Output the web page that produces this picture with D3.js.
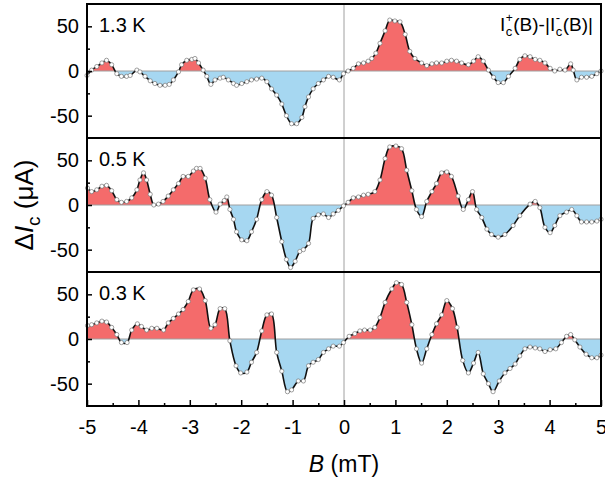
<!DOCTYPE html>
<html>
<head>
<meta charset="utf-8">
<script src="https://cdn.jsdelivr.net/npm/d3@7"></script>
<style>
  html, body { margin: 0; padding: 0; background: #fff; }
  svg { display: block; font-family: "Liberation Sans", Arial, sans-serif; }
</style>
</head>
<body>
<svg id="chart" width="605" height="481"></svg>
<script>
// ΔIc = Ic+(B) - |Ic-(B)| versus field B, one panel per temperature
const panelLabels = ["1.3 K", "0.5 K", "0.3 K"];

const fieldT13 = [-5.0,-4.91,-4.81,-4.71,-4.62,-4.52,-4.42,-4.33,-4.23,-4.16,-4.03,-3.97,-3.87,-3.77,-3.68,-3.58,-3.48,-3.40,-3.32,-3.22,-3.16,-3.06,-2.96,-2.90,-2.83,-2.74,-2.67,-2.59,-2.51,-2.41,-2.35,-2.25,-2.15,-2.09,-1.99,-1.89,-1.80,-1.70,-1.60,-1.50,-1.41,-1.31,-1.21,-1.12,-1.02,-0.92,-0.82,-0.76,-0.69,-0.60,-0.50,-0.40,-0.30,-0.21,-0.09,-0.01,0.08,0.18,0.28,0.38,0.47,0.54,0.62,0.70,0.80,0.89,0.99,1.09,1.19,1.28,1.38,1.51,1.61,1.71,1.80,1.90,2.00,2.09,2.19,2.29,2.42,2.52,2.61,2.71,2.81,2.91,3.00,3.10,3.20,3.33,3.42,3.52,3.62,3.72,3.81,3.91,4.01,4.10,4.20,4.30,4.41,4.46,4.53,4.62,4.72,4.82,4.92,5.0];
const dIcT13 = [-5,1,5,9,12,7,-3,-6,-6,-5,1,-1,-6,-11,-14,-16,-16,-15,-10,-1,7,12,13,14,9,1,-6,-15,-10,-8,-7,-10,-14,-16,-14,-12,-10,-9,-8,-12,-20,-27,-37,-50,-59,-59,-52,-40,-29,-20,-14,-10,-6,-7,-10,-3,0,3,8,9,11,14,20,31,45,57,56,55,41,22,14,9,6,8,9,9,11,12,11,9,7,11,16,11,1,-7,-13,-13,-6,3,13,17,16,13,12,9,3,0,2,1,8,1,-10,-7,-7,-6,-3,0];

const fieldT05 = [-4.99,-4.91,-4.81,-4.71,-4.62,-4.52,-4.42,-4.33,-4.23,-4.13,-4.03,-3.97,-3.90,-3.84,-3.77,-3.70,-3.61,-3.52,-3.42,-3.32,-3.22,-3.13,-3.03,-2.93,-2.87,-2.80,-2.70,-2.61,-2.49,-2.41,-2.33,-2.28,-2.22,-2.15,-2.09,-1.99,-1.89,-1.80,-1.70,-1.60,-1.50,-1.41,-1.31,-1.21,-1.12,-1.04,-0.95,-0.86,-0.79,-0.69,-0.60,-0.50,-0.40,-0.30,-0.21,-0.11,-0.01,0.08,0.18,0.28,0.38,0.47,0.60,0.70,0.80,0.89,1.01,1.12,1.22,1.32,1.41,1.51,1.61,1.71,1.80,1.90,2.00,2.09,2.22,2.32,2.42,2.50,2.58,2.68,2.78,2.87,3.00,3.13,3.29,3.42,3.62,3.72,3.81,3.91,4.01,4.10,4.20,4.33,4.43,4.53,4.62,4.72,4.82,4.92,5.0];
const dIcT05 = [19,15,17,21,22,16,6,3,4,8,17,28,36,28,12,0,1,4,10,17,24,32,32,38,41,41,30,6,-8,1,5,9,-5,-16,-30,-39,-40,-30,-16,6,15,11,-14,-41,-61,-70,-63,-52,-50,-43,-15,-11,-10,-14,-10,-6,-1,3,8,9,11,12,15,28,52,65,66,63,39,16,-5,-13,4,15,24,36,37,32,10,-5,6,15,-5,-14,-27,-33,-36,-33,-23,-12,1,4,-3,-25,-31,-23,-12,-8,-5,-12,-19,-19,-19,-18,-16];

const fieldT03 = [-4.99,-4.91,-4.81,-4.71,-4.62,-4.52,-4.42,-4.33,-4.22,-4.13,-4.02,-3.94,-3.84,-3.74,-3.64,-3.51,-3.42,-3.32,-3.22,-3.13,-3.03,-2.93,-2.81,-2.70,-2.59,-2.51,-2.41,-2.32,-2.22,-2.10,-2.01,-1.89,-1.80,-1.70,-1.60,-1.50,-1.41,-1.31,-1.21,-1.10,-1.02,-0.89,-0.79,-0.69,-0.60,-0.50,-0.40,-0.30,-0.21,-0.09,-0.01,0.10,0.21,0.31,0.40,0.51,0.60,0.70,0.80,0.93,1.02,1.12,1.22,1.32,1.41,1.51,1.61,1.71,1.80,1.90,2.00,2.11,2.20,2.31,2.42,2.52,2.61,2.71,2.81,2.90,3.02,3.13,3.23,3.33,3.42,3.52,3.62,3.72,3.81,3.91,4.01,4.12,4.23,4.33,4.41,4.49,4.59,4.71,4.82,4.92,5.0];
const dIcT03 = [15,16,18,20,19,13,5,-4,-4,10,17,14,10,12,12,10,18,23,28,33,42,55,56,43,12,16,34,34,-2,-30,-38,-37,-26,-15,9,27,28,-15,-36,-59,-57,-47,-47,-30,-26,-23,-15,-11,-8,-8,-4,3,6,9,10,10,13,24,41,56,63,61,41,16,-11,-27,-11,5,17,27,43,34,13,-24,-38,-27,-15,-39,-50,-59,-47,-38,-33,-28,-19,-11,-9,-10,-11,-14,-12,-11,-4,3,5,-1,-9,-17,-21,-21,-18];

const xTicks = [-5,-4,-3,-2,-1,0,1,2,3,4,5];
const yTicks = [-50,0,50];

const series = [
  { label: panelLabels[0], B: fieldT13, v: dIcT13 },
  { label: panelLabels[1], B: fieldT05, v: dIcT05 },
  { label: panelLabels[2], B: fieldT03, v: dIcT03 }
];

const svg = d3.select("#chart");
const plotL = 87, plotR = 601, plotT = 4, panelH = 134;
const x = d3.scaleLinear().domain([-5, 5]).range([plotL, plotR]);
const hyphenFmt = d => String(d); // plain hyphen-minus for negatives

const posColor = "#f46b6b", negColor = "#a6d7f1";
const defs = svg.append("defs");

series.forEach((s, i) => {
  const y0 = plotT + i * panelH, y1 = y0 + panelH;
  const y = d3.scaleLinear().domain([-75, 75]).range([y1, y0]);
  const pts = s.B.map((b, k) => ({ b, v: s.v[k] }));
  const g = svg.append("g");

  // clip regions above / below zero
  const idUp = "up" + i, idDn = "dn" + i;
  defs.append("clipPath").attr("id", idUp).append("rect")
    .attr("x", plotL).attr("y", y0).attr("width", plotR - plotL).attr("height", y(0) - y0);
  defs.append("clipPath").attr("id", idDn).append("rect")
    .attr("x", plotL).attr("y", y(0)).attr("width", plotR - plotL).attr("height", y1 - y(0));

  const curve = d3.curveCatmullRom.alpha(0.5);
  const area = d3.area().x(d => x(d.b)).y0(y(0)).y1(d => y(d.v)).curve(curve);
  const line = d3.line().x(d => x(d.b)).y(d => y(d.v)).curve(curve);

  g.append("path").datum(pts).attr("d", area).attr("fill", posColor).attr("clip-path", `url(#${idUp})`);
  g.append("path").datum(pts).attr("d", area).attr("fill", negColor).attr("clip-path", `url(#${idDn})`);

  // zero lines
  g.append("line").attr("x1", plotL).attr("x2", plotR).attr("y1", y(0)).attr("y2", y(0))
    .attr("stroke", "#a0a0a0").attr("stroke-width", 1);
  g.append("line").attr("x1", x(0)).attr("x2", x(0)).attr("y1", y0).attr("y2", y1)
    .attr("stroke", "#a0a0a0").attr("stroke-width", 1);

  g.append("path").datum(pts).attr("d", line).attr("fill", "none")
    .attr("stroke", "#111").attr("stroke-width", 1.6);

  g.selectAll("circle").data(pts).join("circle")
    .attr("cx", d => x(d.b)).attr("cy", d => y(d.v)).attr("r", 2.1)
    .attr("fill", "#fff").attr("stroke", "#777").attr("stroke-width", 0.7);

  // left axis: inward ticks, major with labels, minor between
  const yAxis = d3.axisLeft(y).tickValues(yTicks).tickSizeInner(-5).tickSizeOuter(0).tickPadding(8)
    .tickFormat(hyphenFmt);
  const ya = g.append("g").attr("transform", `translate(${plotL},0)`).call(yAxis);
  ya.select(".domain").remove();
  ya.selectAll("line").attr("stroke", "#000").attr("stroke-width", 1.5);
  ya.selectAll("text").attr("font-size", 20).attr("fill", "#000")
    .attr("font-family", "Liberation Sans, Arial, sans-serif");
  const yMinor = d3.axisLeft(y).tickValues([-25, 25]).tickSize(-3).tickFormat("");
  const ym = g.append("g").attr("transform", `translate(${plotL},0)`).call(yMinor);
  ym.select(".domain").remove();
  ym.selectAll("line").attr("stroke", "#000").attr("stroke-width", 1.5);

  if (i === 2) {
    const xAxis = d3.axisBottom(x).tickValues(xTicks).tickSizeInner(-6).tickSizeOuter(0).tickPadding(14)
      .tickFormat(hyphenFmt);
    const xa = g.append("g").attr("transform", `translate(0,${y1})`).call(xAxis);
    xa.select(".domain").remove();
    xa.selectAll("line").attr("stroke", "#000").attr("stroke-width", 1.5);
    xa.selectAll("text").attr("font-size", 20).attr("fill", "#000")
      .attr("font-family", "Liberation Sans, Arial, sans-serif");
    const xMinor = d3.axisBottom(x).tickValues(d3.range(-4.5, 5, 1)).tickSize(-3).tickFormat("");
    const xm = g.append("g").attr("transform", `translate(0,${y1})`).call(xMinor);
    xm.select(".domain").remove();
    xm.selectAll("line").attr("stroke", "#000").attr("stroke-width", 1.5);
  }

  // panel frame
  g.append("rect").attr("x", plotL).attr("y", y0).attr("width", plotR - plotL).attr("height", panelH)
    .attr("fill", "none").attr("stroke", "#000").attr("stroke-width", 2);

  g.append("text").attr("x", plotL + 12).attr("y", y0 + 28).attr("font-size", 20).text(s.label);
});

// legend formula in top panel: I_c^+(B)-|I_c^-(B)|
const lg = svg.append("g").attr("font-size", 19);
const ly = 31;
let cx = 500;
function put(txt, dy, size) {
  const t = lg.append("text").attr("x", cx).attr("y", ly + dy).attr("font-size", size).text(txt);
  return t.node().getComputedTextLength();
}
let w = put("I", 0, 19); cx += w + 0.5;
let w1 = put("+", -9, 12); let w2 = put("c", 5, 13); cx += Math.max(w1, w2) + 0.5;
w = put("(B)-|I", 0, 19); cx += w + 0.5;
w1 = put("-", -9, 13); w2 = put("c", 5, 13); cx += Math.max(w1, w2) + 0.5;
put("(B)|", 0, 19);

// axis titles
const yt = svg.append("text").attr("transform", `translate(33,${plotT + 1.5 * panelH}) rotate(-90)`)
  .attr("text-anchor", "middle").attr("font-size", 26);
yt.append("tspan").text("Δ");
yt.append("tspan").attr("font-style", "italic").text("I");
yt.append("tspan").attr("font-size", 19).attr("dy", 7).text("c");
yt.append("tspan").attr("dy", -7).text(" (μA)");

const xt = svg.append("text").attr("x", x(0)).attr("y", 472).attr("text-anchor", "middle").attr("font-size", 23);
xt.append("tspan").attr("font-style", "italic").text("B");
xt.append("tspan").text(" (mT)");
</script>
</body>
</html>
